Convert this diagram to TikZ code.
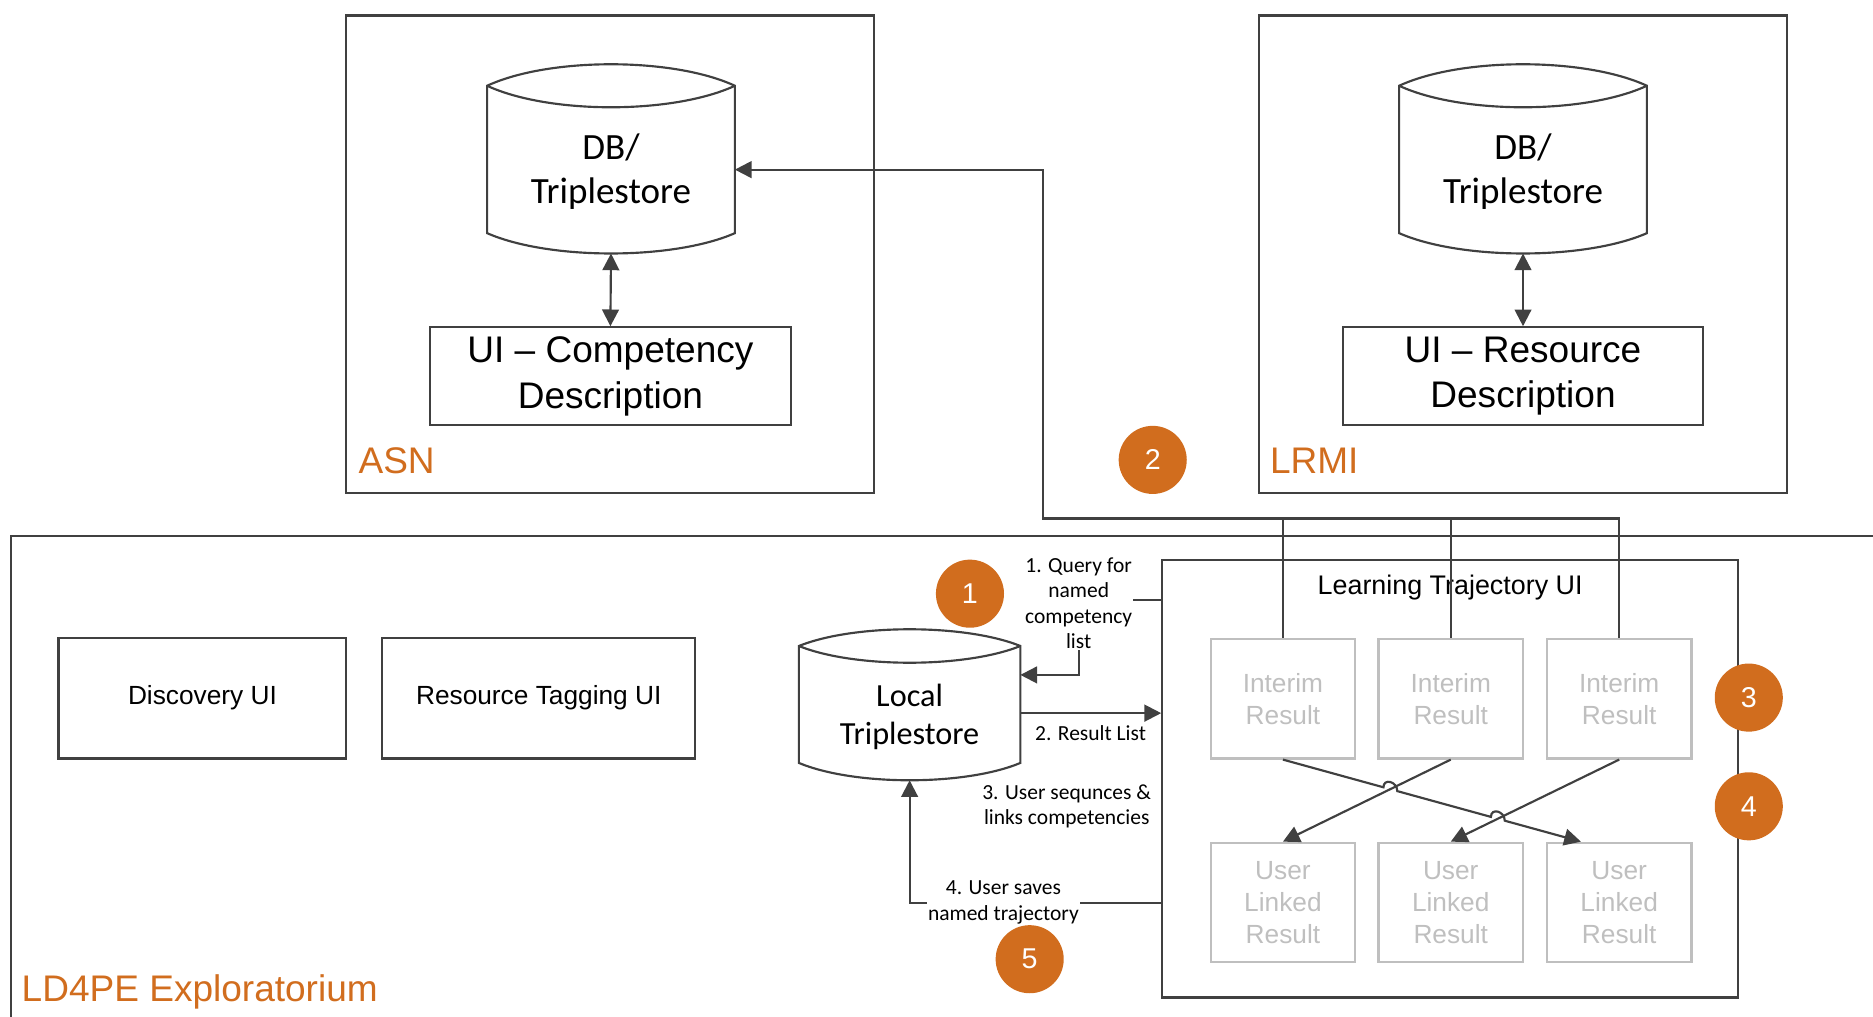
\documentclass[tikz,border=0pt]{standalone}
\usepackage{fontspec}
\setmainfont{Liberation Sans}
\newfontfamily\calibri{Carlito}
\usepackage{tikz}
\usetikzlibrary{arrows.meta, calc}

\definecolor{lineGray}{RGB}{64,64,64}
\definecolor{stepOrange}{RGB}{209,109,30}
\definecolor{paleGray}{RGB}{191,191,191}

\tikzset{
  conn/.style={draw=lineGray, line width=1.8pt},
  arr/.style={conn, -{Triangle[length=14pt,width=14pt]}},
  dbl/.style={conn, {Triangle[length=14pt,width=14pt]}-{Triangle[length=14pt,width=14pt]}},
  box/.style={draw=lineGray, line width=1.8pt, align=center, inner sep=0pt},
  dbnode/.style={inner sep=0pt},
  dbtext/.style={inner sep=0pt, align=center},
  result/.style={draw=paleGray, line width=1.8pt, text=paleGray, align=center,
    minimum width=121pt, minimum height=100pt, inner sep=0pt,
    font=\fontsize{22}{26.5}\selectfont},
  badge/.style={circle, fill=stepOrange, text=white, minimum size=57pt,
    inner sep=0pt, font=\fontsize{24}{28}\selectfont},
  steptext/.style={font=\calibri\fontsize{18}{21.3}\selectfont, align=center, inner sep=1pt},
  tag/.style={text=stepOrange, font=\fontsize{31}{36}\selectfont, anchor=base west, inner sep=0pt},
}

% outline of a database drum around a node
\newcommand{\dbshape}[3]{%
  \draw[conn] (#1.north west)
    .. controls ($(#1.north west)!.25!(#1.north east)+(0,{-4/3*#2})$) and ($(#1.north west)!.75!(#1.north east)+(0,{-4/3*#2})$) .. (#1.north east)
    -- ($(#1.south east)+(0,-#3)$)
    .. controls ($(#1.south west)!.75!(#1.south east)+(0,{#3/3})$) and ($(#1.south west)!.25!(#1.south east)+(0,{#3/3})$) .. ($(#1.south west)+(0,-#3)$)
    -- cycle;
  \draw[conn] (#1.north west)
    .. controls ($(#1.north west)!.25!(#1.north east)+(0,{4/3*#2})$) and ($(#1.north west)!.75!(#1.north east)+(0,{4/3*#2})$) .. (#1.north east);
}

\begin{document}
\begin{tikzpicture}[x=1pt, y=-1pt]
  \useasboundingbox (0,0) rectangle (1568,851);

  % outer systems
  \node[box, minimum width=442pt, minimum height=400pt] (asn) at (511,213) {};
  \node[box, minimum width=442pt, minimum height=400pt] (lrmi) at (1275,213) {};
  \draw[conn] (1580,449) -| (9,860);
  \node[tag] (asnlbl) at (300,396) {ASN};
  \node[tag] (lrmilbl) at (1063,396) {LRMI};
  \node[tag] (ldlbl) at (18,838) {LD4PE Exploratorium};

  % ASN
  \node[dbnode, minimum width=207pt, minimum height=140pt] (asndb) at (511.5,142) {};
  \dbshape{asndb}{18}{17}
  \node[dbtext, font=\calibri\fontsize{31}{37}\selectfont] (asndbtxt) at ($(asndb)+(0,2)$) {DB/\\Triplestore};
  \node[box, minimum width=302pt, minimum height=82pt,
    font=\fontsize{31}{38}\selectfont] (uicomp) at (511,315) {UI \textendash{} Competency\\Description};
  \draw[dbl] (asndb.south) -- (uicomp.north);

  % LRMI
  \node[dbnode, minimum width=207pt, minimum height=140pt] (lrmidb) at (1275,142) {};
  \dbshape{lrmidb}{18}{17}
  \node[dbtext, font=\calibri\fontsize{31}{37}\selectfont] (lrmidbtxt) at ($(lrmidb)+(0,2)$) {DB/\\Triplestore};
  \node[box, minimum width=302pt, minimum height=82pt,
    font=\fontsize{31}{38}\selectfont] (uires) at (1275,315) {UI \textendash{} Resource\\Description};
  \draw[dbl] (lrmidb.south) -- (uires.north);

  % exploratorium
  \node[box, minimum width=241pt, minimum height=101pt,
    font=\fontsize{22}{26}\selectfont] (disc) at (169.5,584.5) {Discovery UI};
  \node[box, minimum width=262pt, minimum height=101pt,
    font=\fontsize{22}{26}\selectfont] (tagging) at (451,584.5) {Resource Tagging UI};
  \node[dbnode, minimum width=185pt, minimum height=112pt] (local) at (761.5,597) {};
  \dbshape{local}{14}{14.5}
  \node[dbtext, font=\calibri\fontsize{27}{32}\selectfont] (localtxt) at ($(local)+(0,3)$) {Local\\Triplestore};

  \node[box, minimum width=482pt, minimum height=366pt] (lt) at (1214,652) {};
  \node[font=\fontsize{22.5}{26}\selectfont] (lttitle) at (1214,492) {Learning Trajectory UI};

  \node[result] (i1) at (1074,585) {Interim\\Result};
  \node[result] (i2) at (1214.5,585) {Interim\\Result};
  \node[result] (i3) at (1355.5,585) {Interim\\Result};
  \node[result] (u1) at (1074,755.5) {User\\Linked\\Result};
  \node[result] (u2) at (1214.5,755.5) {User\\Linked\\Result};
  \node[result] (u3) at (1355.5,755.5) {User\\Linked\\Result};

  % lookup in the ASN store
  \coordinate (bus) at (873,434);
  \draw[arr] (i1.north) |- (bus) |- (asndb.east);
  \draw[conn] (i2.north) -- (i2.north |- bus);
  \draw[conn] (i3.north) |- (i1.north |- bus);

  % linking results
  \coordinate (u3in) at ($(u3.north)+(-32,0)$);
  \coordinate (x1) at (intersection of i1.south--u3in and i2.south--u1.north);
  \coordinate (x2) at (intersection of i1.south--u3in and i3.south--u2.north);
  \coordinate (h1a) at ($(x1)!6pt!(i1.south)$);
  \coordinate (h1b) at ($(x1)!6pt!(u3in)$);
  \coordinate (h2a) at ($(x2)!6pt!(i1.south)$);
  \coordinate (h2b) at ($(x2)!6pt!(u3in)$);
  \draw[arr] (i2.south) -- (u1.north);
  \draw[arr] (i3.south) -- (u2.north);
  \draw[arr] (i1.south) -- (h1a)
    .. controls ($(h1a)+(0,-8)$) and ($(h1b)+(0,-8)$) .. (h1b) -- (h2a)
    .. controls ($(h2a)+(0,-8)$) and ($(h2b)+(0,-8)$) .. (h2b) -- (u3in);

  % numbered steps
  \coordinate (qbend) at (903,565);
  \draw[arr] ($(lt.north west)+(0,34)$) -| (qbend) -- (qbend -| local.east);
  \node[steptext, fill=white] (q1) at (903,505) {1. Query for\\named\\competency\\list};
  \draw[arr] (local.east) -- (local.east -| lt.west);
  \node[steptext] (q2) at (913,614) {2. Result List};
  \node[steptext] (q3) at (893,675) {3. User sequnces \&\\links competencies};
  \draw[arr] ($(lt.south west)+(0,-80)$) -| (local.south);
  \node[steptext, fill=white] (q4) at (840,755.5) {4. User saves\\named trajectory};

  \node[badge] (b1) at (812,497) {1};
  \node[badge] (b2) at (965,385) {2};
  \node[badge] (b3) at (1464,584) {3};
  \node[badge] (b4) at (1464,675) {4};
  \node[badge] (b5) at (862,803) {5};
\end{tikzpicture}
\end{document}
